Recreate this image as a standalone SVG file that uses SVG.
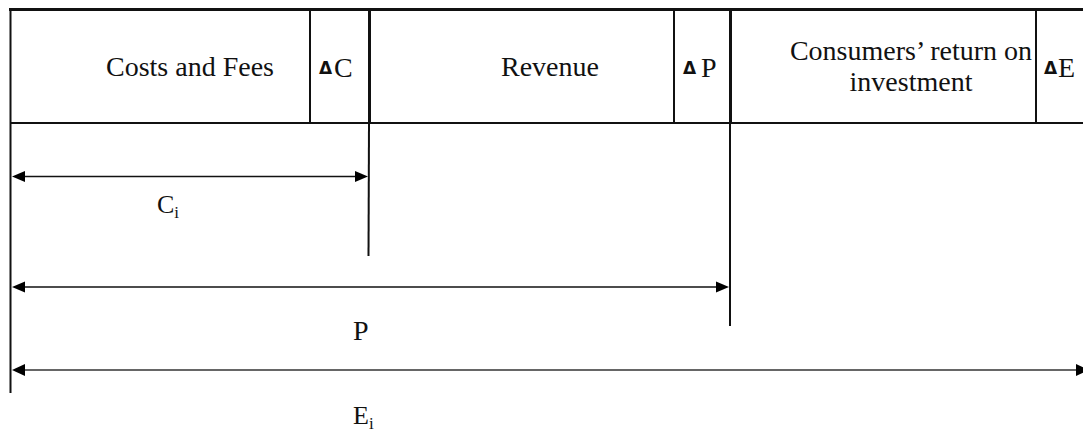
<svg xmlns="http://www.w3.org/2000/svg" width="1083" height="439" viewBox="0 0 1083 439">
  <style>
    .t { font-family: 'Liberation Serif', 'DejaVu Serif', serif; font-size: 28px; fill: #111; }
    .d { font-family: 'DejaVu Sans', sans-serif; font-size: 17px; font-weight: bold; fill: #111; }
    .sub { font-size: 17px; }
    .thin { stroke: #111; stroke-width: 2; fill: none; }
    .thick { stroke: #111; stroke-width: 3; fill: none; }
    .dim { stroke: #111; stroke-width: 1.6; fill: none; }
    .dimg { stroke: #666; stroke-width: 2.2; fill: none; }
    .head { fill: #000; }
  </style>
  <rect width="1083" height="439" fill="#fff"/>

  <g id="header-frame">
    <line class="thick" x1="9" y1="9.5" x2="1083" y2="9.5"/>
    <line class="thin" x1="10" y1="123" x2="1083" y2="123"/>
  </g>

  <g id="cell-costs">
    <line class="thin" x1="310" y1="9" x2="310" y2="123"/>
    <text class="t" x="190" y="76" text-anchor="middle">Costs and Fees</text>
  </g>
  <g id="cell-delta-c">
    <text x="319" y="74" class="d">Δ</text>
    <text x="334" y="77" class="t">C</text>
  </g>
  <g id="cell-revenue">
    <line class="thin" x1="674" y1="9" x2="674" y2="123"/>
    <text class="t" x="550" y="76" text-anchor="middle">Revenue</text>
  </g>
  <g id="cell-delta-p">
    <text x="683" y="74" class="d">Δ</text>
    <text x="701" y="77" class="t">P</text>
  </g>
  <g id="cell-consumers">
    <line class="thin" x1="1036" y1="9" x2="1036" y2="123"/>
    <text class="t" x="911" y="60" text-anchor="middle">Consumers’ return on</text>
    <text class="t" x="911" y="91" text-anchor="middle">investment</text>
  </g>
  <g id="cell-delta-e">
    <text x="1044" y="74" class="d">Δ</text>
    <text x="1058" y="77" class="t">E</text>
  </g>

  <g id="connectors">
    <line class="thin" x1="10.5" y1="9" x2="10.5" y2="393"/>
    <line class="thick" x1="369.5" y1="9" x2="369.5" y2="123"/>
    <line class="thin" x1="369" y1="123" x2="368.5" y2="256"/>
    <line class="thick" x1="730.5" y1="9" x2="730.5" y2="123"/>
    <line class="thin" x1="730" y1="123" x2="730" y2="326"/>

    <line class="dim" x1="20" y1="176.5" x2="360" y2="176.5"/>
    <polygon class="head" points="12,176.5 25,171 25,182"/>
    <polygon class="head" points="368,176.5 355,171 355,182"/>

    <line class="dim" x1="20" y1="287" x2="720" y2="287"/>
    <polygon class="head" points="12,287 25,281.5 25,292.5"/>
    <polygon class="head" points="729,287 716,281.5 716,292.5"/>

    <line class="dimg" x1="20" y1="370" x2="1078" y2="370"/>
    <polygon class="head" points="12,370 25,364 25,376"/>
    <polygon class="head" points="1089,370 1076,364 1076,376"/>
  </g>

  <g id="label-ci">
    <text class="t" x="157" y="213" style="font-size:26px">C<tspan class="sub" dy="5">i</tspan></text>
  </g>
  <g id="label-p">
    <text class="t" x="353" y="340">P</text>
  </g>
  <g id="label-ei">
    <text class="t" x="353" y="424" style="font-size:26px">E<tspan class="sub" dy="5">i</tspan></text>
  </g>
</svg>
